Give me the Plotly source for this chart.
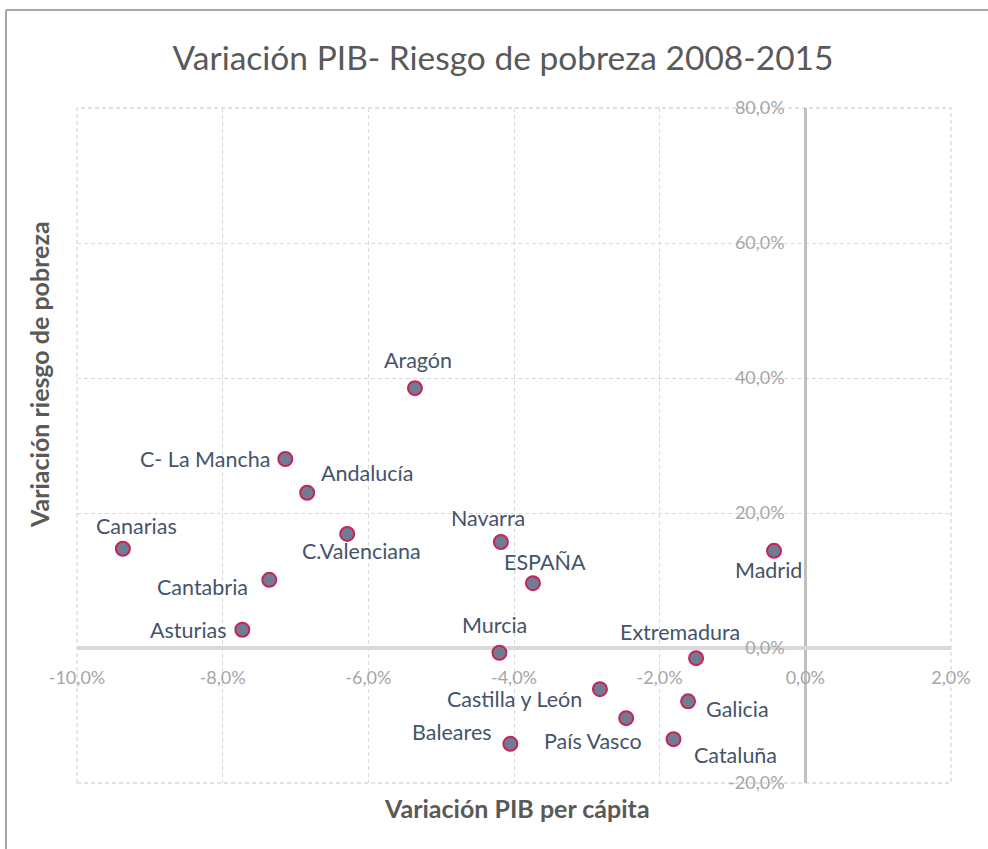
import plotly.graph_objects as go

regions = ["Aragón", "C- La Mancha", "Andalucía", "Canarias", "C.Valenciana",
           "Cantabria", "Asturias", "Navarra", "ESPAÑA", "Madrid", "Murcia",
           "Extremadura", "Castilla y León", "Galicia", "País Vasco",
           "Baleares", "Cataluña"]
pib_var = [-5.36, -7.14, -6.84, -9.37, -6.29, -7.36, -7.73, -4.18, -3.74,
           -0.43, -4.20, -1.50, -2.82, -1.61, -2.46, -4.05, -1.81]
pobreza_var = [38.5, 28.0, 23.0, 14.7, 16.9, 10.1, 2.7, 15.7, 9.6, 14.4,
               -0.7, -1.5, -6.1, -7.9, -10.4, -14.2, -13.5]

x_ticks = [-10, -8, -6, -4, -2, 0, 2]
x_tick_text = ["-10,0%", "-8,0%", "-6,0%", "-4,0%", "-2,0%", "0,0%", "2,0%"]
y_ticks = [-20, 0, 20, 40, 60, 80]
y_tick_text = ["-20,0%", "0,0%", "20,0%", "40,0%", "60,0%", "80,0%"]

# label placement (anchor, x offset px, y offset px) - styling only
label_style = {
    "Aragón": ("center", 3, 28),
    "C- La Mancha": ("right", -13, 0),
    "Andalucía": ("left", 12, 20),
    "Canarias": ("center", 14, 23),
    "C.Valenciana": ("center", 14, -17),
    "Cantabria": ("right", -19, -7),
    "Asturias": ("right", -13, 0),
    "Navarra": ("center", -13, 24),
    "ESPAÑA": ("center", 12, 21),
    "Madrid": ("center", -6, -19),
    "Murcia": ("center", -5, 28),
    "Extremadura": ("center", -16, 26),
    "Castilla y León": ("right", -16, -10),
    "Galicia": ("left", 16, -8),
    "País Vasco": ("center", -33, -23),
    "Baleares": ("right", -16, 12),
    "Cataluña": ("left", 18, -16),
}

FONT = "Lato"
GRID = "#D9D9D9"
TICK = "#A6A6A6"
LABEL = "#44546A"

fig = go.Figure()
fig.add_trace(go.Scatter(
    x=pib_var, y=pobreza_var, mode="markers",
    marker=dict(size=14, color="#6F7C91", line=dict(color="#C8235A", width=2)),
    cliponaxis=False, showlegend=False, hoverinfo="skip"))

for name, xv, yv in zip(regions, pib_var, pobreza_var):
    anchor, dx, dy = label_style[name]
    fig.add_annotation(x=xv, y=yv, xref="x", yref="y", text=name, showarrow=False,
                       xanchor=anchor, yanchor="middle", xshift=dx, yshift=dy,
                       font=dict(family=FONT, size=21.5, color=LABEL))

W, H = 988, 849
ml, mr, mt, mb = 77, 37, 108, 66
pw, ph = W - ml - mr, H - mt - mb

x0_frac = (0 - x_ticks[0]) / (x_ticks[-1] - x_ticks[0])
y0_frac = (0 - y_ticks[0]) / (y_ticks[-1] - y_ticks[0])

fig.update_layout(
    width=W, height=H, autosize=False,
    margin=dict(l=ml, r=mr, t=mt, b=mb),
    paper_bgcolor="white", plot_bgcolor="white",
    font=dict(family=FONT),
    title=dict(text="Variación PIB- Riesgo de pobreza 2008-2015",
               x=503 / W, xanchor="center", y=1 - 58 / H, yanchor="middle",
               font=dict(family=FONT, size=33.5, color="#595959")),
    xaxis=dict(range=[x_ticks[0], x_ticks[-1]], tickvals=x_ticks, ticktext=x_tick_text,
               anchor="free", position=y0_frac,
               showgrid=True, gridcolor=GRID, griddash="4px,3px", gridwidth=1.3,
               zeroline=True, zerolinecolor="#BFBFBF", zerolinewidth=3,
               ticks="outside", ticklen=13, tickcolor="rgba(0,0,0,0)",
               tickfont=dict(family=FONT, size=18, color=TICK),
               showline=False, fixedrange=True),
    yaxis=dict(range=[y_ticks[0], y_ticks[-1]], tickvals=y_ticks, ticktext=y_tick_text,
               anchor="free", position=x0_frac, side="left",
               showgrid=True, gridcolor=GRID, griddash="4px,3px", gridwidth=1.3,
               zeroline=True, zerolinecolor="#D9D9D9", zerolinewidth=4,
               ticks="outside", ticklen=17, tickcolor="rgba(0,0,0,0)",
               tickfont=dict(family=FONT, size=18, color=TICK),
               showline=False, fixedrange=True),
)

# dashed frame around the plot area
fig.add_shape(type="rect", xref="x domain", yref="y domain", x0=0, x1=1, y0=0, y1=1,
              line=dict(color=GRID, width=1.3, dash="4px,3px"), layer="below")

# outer chart border (top and left)
fig.add_shape(type="line", xref="paper", yref="paper",
              x0=(6 - ml) / pw, x1=(W - ml) / pw,
              y0=(H - mb - 10) / ph, y1=(H - mb - 10) / ph,
              line=dict(color="#A6A6A6", width=2))
fig.add_shape(type="line", xref="paper", yref="paper",
              x0=(6 - ml) / pw, x1=(6 - ml) / pw,
              y0=(H - mb - 10) / ph, y1=(-mb) / ph,
              line=dict(color="#A6A6A6", width=2))

# axis titles
fig.add_annotation(text="<b>Variación PIB per cápita</b>", xref="paper", yref="paper",
                   x=(517 - ml) / pw, y=(H - mb - 808) / ph, showarrow=False,
                   xanchor="center", yanchor="middle",
                   font=dict(family=FONT, size=25, color="#595959"))
fig.add_annotation(text="<b>Variación riesgo de pobreza</b>", xref="paper", yref="paper",
                   x=(39 - ml) / pw, y=(H - mb - 375) / ph, showarrow=False,
                   textangle=-90, xanchor="center", yanchor="middle",
                   font=dict(family=FONT, size=25, color="#595959"))

fig.write_html("out.html", config={"displayModeBar": False},
               post_script="document.body.style.margin='0';document.body.style.overflow='hidden';")
